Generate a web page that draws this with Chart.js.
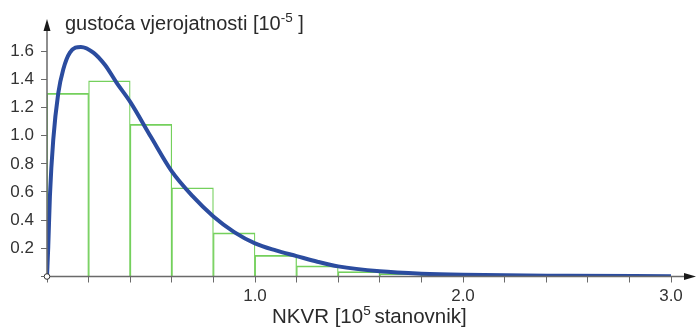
<!DOCTYPE html>
<html>
<head>
<meta charset="utf-8">
<script src="https://cdn.jsdelivr.net/npm/chart.js@4/dist/chart.umd.min.js"></script>
<style>
  html, body { margin: 0; padding: 0; background: #fff; }
  #wrap { width: 696px; height: 327px; position: relative; }
</style>
</head>
<body>
<div id="wrap"><canvas id="chart"></canvas></div>
<script>
// histogram bins (width 0.2, given by centre)
const binCenters = [0.1, 0.3, 0.5, 0.7, 0.9, 1.1, 1.3, 1.5, 1.7, 1.9];
const binHeights = [1.30, 1.39, 1.08, 0.63, 0.31, 0.15, 0.075, 0.035, 0.02, 0.012];

// fitted density curve
const curveX = [0, 0.006, 0.014, 0.03, 0.054, 0.078, 0.11, 0.163, 0.223, 0.28, 0.335, 0.4, 0.5, 0.6, 0.7, 0.8, 0.9, 1.0, 1.1, 1.2, 1.3, 1.4, 1.6, 1.8, 2.0, 2.5, 3.0];
const curveY = [0, 0.21, 0.57, 0.97, 1.30, 1.47, 1.59, 1.63, 1.59, 1.50, 1.375, 1.24, 0.99, 0.746, 0.57, 0.426, 0.315, 0.235, 0.185, 0.145, 0.105, 0.072, 0.037, 0.02, 0.012, 0.005, 0.002];

const yLabels = ['0.2', '0.4', '0.6', '0.8', '1.0', '1.2', '1.4', '1.6'];
const xLabels = ['1.0', '2.0', '3.0'];

const FONT = '"Liberation Sans", Arial, sans-serif';
const AXIS = '#6a6a6a';

const near = (v, list) => list.some(l => Math.abs(parseFloat(l) - v) < 1e-6);

const axesPlugin = {
  id: 'axes',
  afterDraw(chart) {
    const { ctx, scales } = chart;
    const x0 = scales.x.getPixelForValue(0);
    const y0 = scales.y.getPixelForValue(0);
    ctx.save();
    ctx.strokeStyle = AXIS;
    ctx.lineWidth = 1.5;
    ctx.beginPath();
    ctx.moveTo(x0, y0);
    ctx.lineTo(x0, 26);
    ctx.moveTo(x0, y0);
    ctx.lineTo(689, y0);
    ctx.stroke();
    // arrow heads
    ctx.fillStyle = '#1a1a1a';
    ctx.beginPath();
    ctx.moveTo(x0, 19);
    ctx.lineTo(x0 - 3.5, 31);
    ctx.lineTo(x0 + 3.5, 31);
    ctx.closePath();
    ctx.fill();
    ctx.beginPath();
    ctx.moveTo(696, y0);
    ctx.lineTo(684, y0 - 3.5);
    ctx.lineTo(684, y0 + 3.5);
    ctx.closePath();
    ctx.fill();
    // origin marker
    ctx.beginPath();
    ctx.arc(x0, y0, 2.8, 0, Math.PI * 2);
    ctx.fillStyle = '#fff';
    ctx.fill();
    ctx.lineWidth = 1;
    ctx.strokeStyle = '#333';
    ctx.stroke();

    // titles with superscripts
    ctx.fillStyle = '#2a2a2a';
    ctx.textBaseline = 'alphabetic';
    const parts = (x, y, size, segs) => {
      segs.forEach(([t, sup]) => {
        ctx.font = (sup ? '13.5px ' : size + 'px ') + FONT;
        ctx.fillText(t, x, sup ? y - 8 : y);
        x += ctx.measureText(t).width;
      });
    };
    parts(65, 29.5, 20, [['gustoća vjerojatnosti [10', false], ['-5', true], [' ]', false]]);
    parts(272, 323, 20.5, [['NKVR [10', false], ['5 ', true], ['stanovnik]', false]]);
    ctx.restore();
  }
};

new Chart(document.getElementById('chart'), {
  type: 'bar',
  data: {
    datasets: [
      {
        type: 'line',
        data: curveX.map((x, i) => ({ x: x, y: curveY[i] })),
        borderColor: '#2b4c9f',
        borderWidth: 4,
        pointRadius: 0,
        cubicInterpolationMode: 'monotone',
        fill: false,
        order: 0
      },
      {
        type: 'bar',
        data: binCenters.map((x, i) => ({ x: x, y: binHeights[i] })),
        backgroundColor: 'rgba(0,0,0,0)',
        borderColor: '#74d05c',
        borderWidth: { top: 1, left: 0.6, right: 0.6, bottom: 0 },
        borderSkipped: false,
        barPercentage: 1,
        categoryPercentage: 1,
        order: 1
      }
    ]
  },
  options: {
    responsive: true,
    maintainAspectRatio: false,
    animation: false,
    layout: { padding: { left: 0, right: 25, top: 30, bottom: 0 } },
    plugins: { legend: { display: false }, tooltip: { enabled: false } },
    scales: {
      x: {
        type: 'linear',
        min: 0,
        max: 3.0,
        offset: false,
        afterBuildTicks: s => { s.ticks = []; for (let i = 0; i <= 15; i++) s.ticks.push({ value: +(i * 0.2).toFixed(1) }); },
        afterFit: s => { s.height = 50.5; },
        ticks: {
          autoSkip: false,
          maxRotation: 0,
          padding: 4,
          color: '#333',
          font: { family: FONT, size: 17 },
          callback: v => near(v, xLabels) ? v.toFixed(1) : ''
        },
        grid: { offset: false, drawOnChartArea: false, drawTicks: true, tickLength: 6, color: AXIS, lineWidth: 1 },
        border: { display: false }
      },
      y: {
        min: 0,
        max: 1.75,
        afterBuildTicks: s => { s.ticks = []; for (let i = 0; i <= 8; i++) s.ticks.push({ value: +(i * 0.2).toFixed(1) }); },
        afterFit: s => { s.width = 47; },
        ticks: {
          padding: 7,
          color: '#333',
          font: { family: FONT, size: 17 },
          callback: v => near(v, yLabels) ? v.toFixed(1) : ''
        },
        grid: { drawOnChartArea: false, drawTicks: true, tickLength: 6, color: AXIS, lineWidth: 1 },
        border: { display: false }
      }
    }
  },
  plugins: [axesPlugin]
});
</script>
</body>
</html>
